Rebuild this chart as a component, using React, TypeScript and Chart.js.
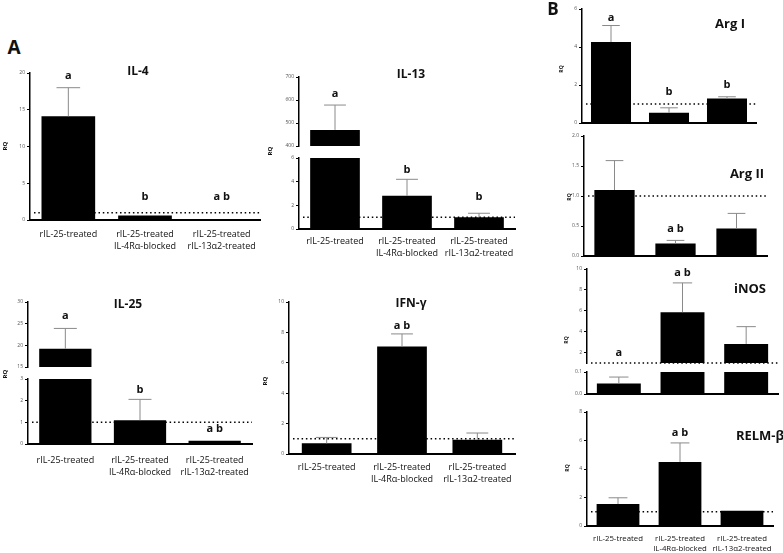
import React, { useEffect, useRef } from 'react';
import { Chart, registerables } from 'chart.js';
Chart.register(...registerables);

const categories = [['rIL-25-treated'], ['rIL-25-treated', 'IL-4Rα-blocked'], ['rIL-25-treated', 'rIL-13α2-treated']];

const il4Mean = [14.1, 0.6, 0.1];
const il4Upper = [18.0, 0.6, 0.1];
const il4Sig = ['a', 'b', 'a b'];
const il4SigAt = [19.6, 3.1, 3.1];
const il4Ticks = [0, 5, 10, 15, 20];

const il13Mean = [470, 2.8, 1.0];
const il13Upper = [578, 4.2, 1.33];
const il13Sig = ['a', 'b', 'b'];
const il13SigAt = [627, 5.0, 2.7];
const il13TicksHigh = [400, 500, 600, 700];
const il13TicksLow = [0, 2, 4, 6];

const il25Mean = [19.2, 1.1, 0.15];
const il25Upper = [23.9, 2.06, 0.15];
const il25Sig = ['a', 'b', 'a b'];
const il25SigAt = [26.8, 2.49, 0.69];
const il25TicksHigh = [15, 20, 25, 30];
const il25TicksLow = [0, 1, 2, 3];

const ifnMean = [0.7, 7.08, 0.94];
const ifnUpper = [1.09, 7.9, 1.38];
const ifnSig = ['', 'a b', ''];
const ifnSigAt = [0, 8.42, 0];
const ifnTicks = [0, 2, 4, 6, 8, 10];

const arg1Mean = [4.26, 0.54, 1.29];
const arg1Upper = [5.13, 0.8, 1.38];
const arg1Sig = ['a', 'b', 'b'];
const arg1SigAt = [5.53, 1.62, 2.03];
const arg1Ticks = [0, 2, 4, 6];

const arg2Mean = [1.1, 0.21, 0.46];
const arg2Upper = [1.59, 0.26, 0.71];
const arg2Sig = ['', 'a b', ''];
const arg2SigAt = [0, 0.45, 0];
const arg2Ticks = [0, 0.5, 1.0, 1.5, 2.0];

const inosMean = [0.048, 5.87, 2.83];
const inosUpper = [0.077, 8.67, 4.48];
const inosSig = ['a', 'a b', ''];
const inosSigAt = [2.0, 9.65, 0];
const inosTicksHigh = [2, 4, 6, 8, 10];
const inosTicksLow = [0, 0.1];

const relmMean = [1.54, 4.5, 1.07];
const relmUpper = [1.98, 5.83, 1.07];
const relmSig = ['', 'a b', ''];
const relmSigAt = [0, 6.53, 0];
const relmTicks = [0, 2, 4, 6, 8];

const FONT = '"Open Sans", "DejaVu Sans", sans-serif';

const annotPlugin = {
  id: 'annot',
  afterDatasetsDraw(chart: any, _args: any, opts: any) {
    const { ctx, chartArea } = chart;
    const y = chart.scales.y;
    const meta = chart.getDatasetMeta(0);
    ctx.save();
    if (opts.refLine != null && opts.refLine >= y.min && opts.refLine <= y.max) {
      const py = y.getPixelForValue(opts.refLine);
      ctx.strokeStyle = '#000';
      ctx.lineWidth = 1.5;
      ctx.setLineDash([1.5, 2.8]);
      ctx.beginPath();
      ctx.moveTo(chartArea.left + 4, py);
      ctx.lineTo(chartArea.right, py);
      ctx.stroke();
      ctx.setLineDash([]);
    }
    (opts.means || []).forEach((m: number, i: number) => {
      const e = opts.uppers[i];
      const bar = meta.data[i];
      if (!bar) return;
      if (m >= y.min && m <= y.max && e > m) {
        const top = y.getPixelForValue(Math.min(e, y.max));
        const base = y.getPixelForValue(m);
        const half = bar.width * 0.22;
        ctx.strokeStyle = '#8a8a8a';
        ctx.lineWidth = 1;
        ctx.beginPath();
        ctx.moveTo(bar.x, base);
        ctx.lineTo(bar.x, top);
        ctx.moveTo(bar.x - half, top);
        ctx.lineTo(bar.x + half, top);
        ctx.stroke();
      }
    });
    (opts.sig || []).forEach((s: string, i: number) => {
      const v = opts.sigAt[i];
      const bar = meta.data[i];
      if (!s || !bar) return;
      if (v >= y.min && v <= y.max) {
        ctx.fillStyle = '#111';
        ctx.font = 'bold 11px ' + FONT;
        ctx.textAlign = 'center';
        ctx.textBaseline = 'middle';
        ctx.fillText(s, bar.x, y.getPixelForValue(v));
      }
    });
    ctx.restore();
  },
};

type BoxProps = {
  left: number; top: number; width: number; height: number;
  padBottom: number; xh: number; xPad?: number; labelSize?: number;
  showXAxis: boolean; showLabels: boolean;
  min: number; max: number; ticks: number[]; decimals?: number;
  means: number[]; uppers: number[]; sig: string[]; sigAt: number[];
  refLine?: number | null; barPct?: number;
};

function ChartBox(p: BoxProps) {
  const ref = useRef<HTMLCanvasElement | null>(null);
  useEffect(() => {
    if (!ref.current) return;
    const chart = new Chart(ref.current, {
      type: 'bar',
      data: {
        labels: categories,
        datasets: [{
          data: p.means,
          backgroundColor: '#000',
          borderWidth: 0,
          barPercentage: p.barPct ?? 0.69,
          categoryPercentage: 1,
        }],
      },
      options: {
        responsive: false,
        animation: false,
        devicePixelRatio: 1,
        layout: { padding: { top: 6, right: 12, bottom: p.padBottom, left: 0 } },
        plugins: {
          legend: { display: false },
          tooltip: { enabled: false },
          title: { display: false },
          annot: {
            means: p.means, uppers: p.uppers, sig: p.sig, sigAt: p.sigAt,
            refLine: p.refLine ?? null,
          },
        } as any,
        scales: {
          x: {
            type: 'category',
            offset: true,
            display: p.showXAxis,
            grid: { display: false, drawTicks: false },
            border: { display: true, color: '#000', width: 2 },
            ticks: {
              display: p.showLabels,
              autoSkip: false,
              maxRotation: 0,
              minRotation: 0,
              padding: p.xPad ?? 8,
              color: '#111',
              font: { family: FONT, size: p.labelSize ?? 9, lineHeight: 1.3 },
            },
            afterFit: (s: any) => { s.height = p.xh; },
          },
          y: {
            type: 'linear',
            min: p.min,
            max: p.max,
            afterBuildTicks: (s: any) => { s.ticks = p.ticks.map((v) => ({ value: v })); },
            ticks: {
              color: '#555',
              padding: 2,
              font: { family: FONT, size: 5 },
              callback: (v: any) => Number(v).toFixed(p.decimals ?? 0),
            },
            grid: { display: true, drawOnChartArea: false, drawTicks: true, tickLength: 3, color: '#000', lineWidth: 1 },
            border: { display: true, color: '#000', width: 1.5 },
            afterFit: (s: any) => { s.width = 24; },
          },
        },
      } as any,
      plugins: [annotPlugin as any],
    });
    return () => chart.destroy();
  }, []);
  return (
    <canvas
      ref={ref}
      width={p.width}
      height={p.height}
      style={{ position: 'absolute', left: p.left, top: p.top, width: p.width, height: p.height }}
    />
  );
}

function Txt(props: { x: number; y: number; size: number; text: string; bold?: boolean; rotate?: boolean }) {
  return (
    <div
      style={{
        position: 'absolute', left: props.x, top: props.y,
        transform: `translate(-50%, -50%)${props.rotate ? ' rotate(-90deg)' : ''}`,
        fontFamily: FONT, fontSize: props.size, fontWeight: props.bold === false ? 400 : 700,
        color: '#111', whiteSpace: 'nowrap', lineHeight: 1,
      }}
    >
      {props.text}
    </div>
  );
}

export default function App() {
  return (
    <div style={{ position: 'fixed', left: 0, top: 0, width: 783, height: 553, overflow: 'hidden', background: '#fff' }}>
      <ChartBox left={6} top={67} width={266} height={193} padBottom={0} xh={40} xPad={9}
        showXAxis showLabels min={0} max={20} ticks={il4Ticks}
        means={il4Mean} uppers={il4Upper} sig={il4Sig} sigAt={il4SigAt} refLine={1} barPct={0.7} />
      <ChartBox left={275} top={71} width={252} height={80} padBottom={4} xh={0}
        showXAxis={false} showLabels={false} min={400} max={700} ticks={il13TicksHigh}
        means={il13Mean} uppers={il13Upper} sig={il13Sig} sigAt={il13SigAt} />
      <ChartBox left={275} top={152} width={252} height={117} padBottom={0} xh={40} xPad={7}
        showXAxis showLabels min={0} max={6} ticks={il13TicksLow}
        means={il13Mean} uppers={il13Upper} sig={il13Sig} sigAt={il13SigAt} refLine={1} />
      <ChartBox left={4} top={296} width={260} height={76} padBottom={4} xh={0}
        showXAxis={false} showLabels={false} min={15} max={30} ticks={il25TicksHigh}
        means={il25Mean} uppers={il25Upper} sig={il25Sig} sigAt={il25SigAt} barPct={0.7} />
      <ChartBox left={4} top={373} width={260} height={111} padBottom={0} xh={40} xPad={11}
        showXAxis showLabels min={0} max={3} ticks={il25TicksLow}
        means={il25Mean} uppers={il25Upper} sig={il25Sig} sigAt={il25SigAt} refLine={1} barPct={0.7} />
      <ChartBox left={265} top={296} width={262} height={198} padBottom={0} xh={40} xPad={8}
        showXAxis showLabels min={0} max={10} ticks={ifnTicks}
        means={ifnMean} uppers={ifnUpper} sig={ifnSig} sigAt={ifnSigAt} refLine={1} barPct={0.66} />
      <ChartBox left={558} top={3} width={210} height={125} padBottom={4} xh={0}
        showXAxis showLabels={false} min={0} max={6} ticks={arg1Ticks}
        means={arg1Mean} uppers={arg1Upper} sig={arg1Sig} sigAt={arg1SigAt} refLine={1} />
      <ChartBox left={560} top={130} width={219} height={131} padBottom={4} xh={0}
        showXAxis showLabels={false} min={0} max={2} ticks={arg2Ticks} decimals={1}
        means={arg2Mean} uppers={arg2Upper} sig={arg2Sig} sigAt={arg2SigAt} refLine={1} barPct={0.66} />
      <ChartBox left={563} top={263} width={227} height={105} padBottom={4} xh={0}
        showXAxis={false} showLabels={false} min={1} max={10} ticks={inosTicksHigh}
        means={inosMean} uppers={inosUpper} sig={inosSig} sigAt={inosSigAt} refLine={1} />
      <ChartBox left={563} top={366} width={227} height={33} padBottom={4} xh={0}
        showXAxis showLabels={false} min={0} max={0.1} ticks={inosTicksLow} decimals={1}
        means={inosMean} uppers={inosUpper} sig={inosSig} sigAt={inosSigAt} />
      <ChartBox left={563} top={406} width={222} height={154} padBottom={0} xh={34} xPad={8} labelSize={7.8}
        showXAxis showLabels min={0} max={8} ticks={relmTicks}
        means={relmMean} uppers={relmUpper} sig={relmSig} sigAt={relmSigAt} refLine={1} />

      <Txt x={14} y={47} size={19} text="A" />
      <Txt x={553} y={8} size={17} text="B" />
      <Txt x={138} y={71} size={12} text="IL-4" />
      <Txt x={411} y={74} size={12} text="IL-13" />
      <Txt x={128} y={304} size={12} text="IL-25" />
      <Txt x={411} y={303} size={12} text="IFN-γ" />
      <Txt x={730} y={23} size={13} text="Arg I" />
      <Txt x={747} y={173} size={13} text="Arg II" />
      <Txt x={750} y={288} size={13} text="iNOS" />
      <Txt x={760} y={435} size={13} text="RELM-β" />
      <Txt x={5} y={146} size={6} text="RQ" rotate />
      <Txt x={270} y={151} size={6} text="RQ" rotate />
      <Txt x={5} y={374} size={6} text="RQ" rotate />
      <Txt x={265} y={381} size={6} text="RQ" rotate />
      <Txt x={561} y={69} size={5} text="RQ" rotate />
      <Txt x={569} y={197} size={5} text="RQ" rotate />
      <Txt x={566} y={340} size={5} text="RQ" rotate />
      <Txt x={567} y={468} size={5} text="RQ" rotate />
    </div>
  );
}
